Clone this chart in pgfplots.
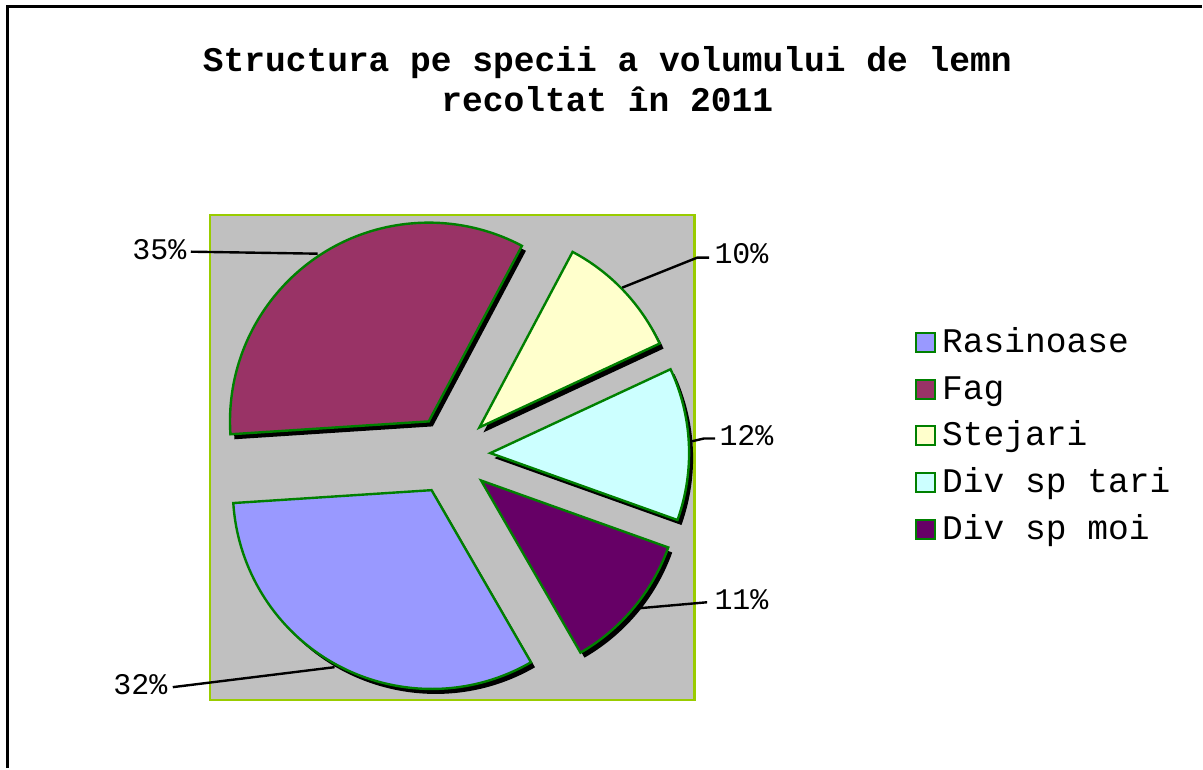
\documentclass[border=0pt]{standalone}
\usepackage{pgfplots}
\pgfplotsset{compat=1.18}
\usepackage{pgfplotstable}
\usepackage{fontspec}
\setmainfont{Liberation Mono}
\definecolor{cRas}{HTML}{9999FF}
\definecolor{cFag}{HTML}{993366}
\definecolor{cStej}{HTML}{FFFFCC}
\definecolor{cTari}{HTML}{CCFFFF}
\definecolor{cMoi}{HTML}{660066}
\definecolor{pieline}{HTML}{008000}
\definecolor{plotgray}{HTML}{C0C0C0}
\definecolor{areaborder}{HTML}{99CC00}
\pgfplotstableread[col sep=comma]{
name,value,color
Rasinoase,32.3,cRas
Fag,33.8,cFag
Stejari,10.3,cStej
Div sp tari,12.4,cTari
Div sp moi,11.2,cMoi
}\piedata
\begin{document}
\begin{tikzpicture}
\begin{axis}[
  width=601.5pt, height=384.5pt, scale only axis,
  xmin=0, xmax=1203, ymin=0, ymax=769, y dir=reverse,
  axis lines=none, clip=false,
]
\path (axis cs:0,0) rectangle (axis cs:1203,769);
% outer frame
\draw[line width=1.5pt] (axis cs:7.7,769) -- (axis cs:7.7,6.7) -- (axis cs:1203,6.7);
% title
\node[font=\bfseries\fontsize{17.3}{20}\selectfont, anchor=base, inner sep=0pt] at (axis cs:608,72) {Structura pe specii a volumului de lemn};
\node[font=\bfseries\fontsize{17.3}{20}\selectfont, anchor=base, inner sep=0pt] at (axis cs:608,112) {recoltat în 2011};
% plot area
\filldraw[fill=plotgray, draw=areaborder, line width=1.2pt] (axis cs:210.5,215.5) rectangle (axis cs:695.5,701);
% shadows
\pgfmathsetmacro{\pieCum}{-60}
\pgfplotsforeachungrouped \i in {0,...,4}{%
  \pgfplotstablegetelem{\i}{value}\of\piedata
  \pgfmathsetmacro{\pieS}{\pieCum}%
  \pgfmathsetmacro{\pieE}{\pieCum-3.6*\pgfplotsretval}%
  \pgfmathsetmacro{\pieM}{(\pieS+\pieE)/2}%
  \pgfmathsetmacro{\pieX}{451+40*cos(\pieM)+4}%
  \pgfmathsetmacro{\pieY}{455.5-40*sin(\pieM)+5}%
  \edef\temp{\noexpand\fill[black] (axis cs:\pieX,\pieY) -- ++(\pieS:99.5pt) arc[start angle=\pieS, end angle=\pieE, radius=99.5pt] -- cycle;}%
  \temp
  \global\let\pieCum\pieE
}
% slices
\pgfmathsetmacro{\pieCum}{-60}
\pgfplotsforeachungrouped \i in {0,...,4}{%
  \pgfplotstablegetelem{\i}{value}\of\piedata
  \pgfmathsetmacro{\pieS}{\pieCum}%
  \pgfmathsetmacro{\pieE}{\pieCum-3.6*\pgfplotsretval}%
  \pgfmathsetmacro{\pieM}{(\pieS+\pieE)/2}%
  \pgfmathsetmacro{\pieX}{451+40*cos(\pieM)}%
  \pgfmathsetmacro{\pieY}{455.5-40*sin(\pieM)}%
  \pgfplotstablegetelem{\i}{color}\of\piedata
  \edef\temp{\noexpand\filldraw[fill=\pgfplotsretval, draw=pieline, line width=1.2pt] (axis cs:\pieX,\pieY) -- ++(\pieS:99.5pt) arc[start angle=\pieS, end angle=\pieE, radius=99.5pt] -- cycle;}%
  \temp
  \global\let\pieCum\pieE
}
% legend
\pgfplotsforeachungrouped \i in {0,...,4}{%
  \pgfmathsetmacro{\legY}{343+46.7*\i}%
  \pgfmathsetmacro{\legA}{\legY-9.5}%
  \pgfmathsetmacro{\legB}{\legY+9.5}%
  \pgfmathsetmacro{\legT}{\legY+10}%
  \pgfplotstablegetelem{\i}{color}\of\piedata
  \let\legC\pgfplotsretval
  \pgfplotstablegetelem{\i}{name}\of\piedata
  \edef\temp{\noexpand\filldraw[fill=\legC, draw=pieline, line width=1.1pt] (axis cs:917.5,\legA) rectangle (axis cs:936.5,\legB);
    \noexpand\node[anchor=base west, inner sep=0pt, font=\noexpand\fontsize{17.3}{20}\noexpand\selectfont] at (axis cs:943,\legT) {\pgfplotsretval};}%
  \temp
}
% data labels
\tikzset{lbl/.style={inner sep=0pt, font=\fontsize{15}{18}\selectfont}}
\draw[line width=1.2pt] (axis cs:191,252) -- (axis cs:318,254);
\node[lbl, anchor=base east] at (axis cs:187,260) {35\%};
\draw[line width=1.2pt] (axis cs:623,288) -- (axis cs:698,258) -- (axis cs:710,258);
\node[lbl, anchor=base west] at (axis cs:715,264) {10\%};
\draw[line width=1.2pt] (axis cs:692,442) -- (axis cs:705,439) -- (axis cs:716,439);
\node[lbl, anchor=base west] at (axis cs:720,446) {12\%};
\draw[line width=1.2pt] (axis cs:640,609) -- (axis cs:708,603);
\node[lbl, anchor=base west] at (axis cs:715,610) {11\%};
\draw[line width=1.2pt] (axis cs:173,688) -- (axis cs:335,668);
\node[lbl, anchor=base east] at (axis cs:168,695) {32\%};
\end{axis}
\end{tikzpicture}
\end{document}
